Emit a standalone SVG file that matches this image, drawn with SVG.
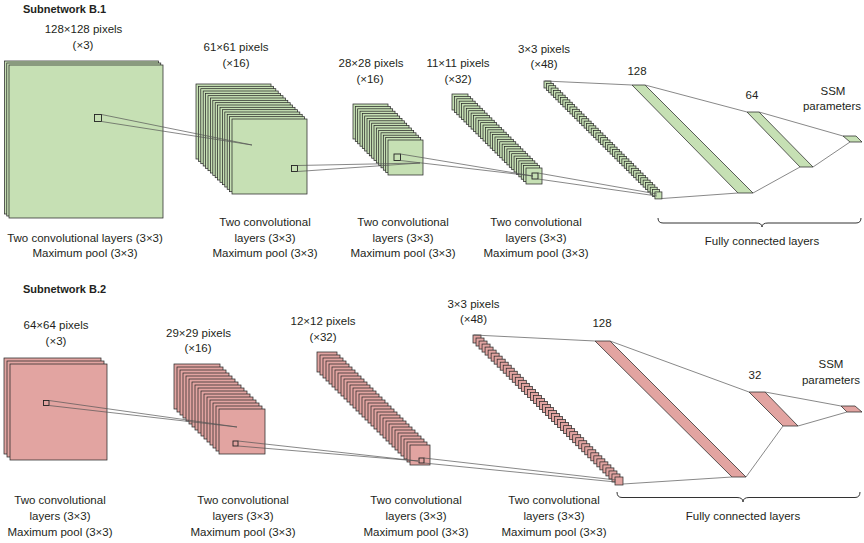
<svg xmlns="http://www.w3.org/2000/svg" width="864" height="543" viewBox="0 0 864 543">
<style>
.g{fill:#c6e0b4;stroke:#2a2a2a;stroke-width:0.75}
.p{fill:#e2a4a1;stroke:#2a2a2a;stroke-width:0.75}
.sq{fill:none;stroke:#222;stroke-width:0.9}
.c{stroke:#555;stroke-width:0.7;fill:none}
.br{fill:none;stroke:#333;stroke-width:1}
text{font-family:"Liberation Sans",Arial,sans-serif;font-size:11.5px;fill:#231f20;stroke:none;text-anchor:middle}
.t{font-weight:bold;font-size:11px;text-anchor:start}
</style>
<defs>
<rect id="a1" x="4.5" y="61" width="154" height="153"/>
<rect id="a2" x="196" y="84" width="75" height="75"/>
<rect id="a3" x="353" y="104" width="35" height="35"/>
<rect id="a4" x="452" y="94" width="16" height="16"/>
<rect id="a5" x="544" y="81" width="7" height="7"/>
<rect id="b1" x="4" y="358" width="97" height="96"/>
<rect id="b2" x="174" y="364" width="46" height="45"/>
<rect id="b3" x="317" y="352" width="20" height="20"/>
<rect id="b4" x="473" y="335" width="8" height="8"/>
</defs>

<!-- ===== Subnetwork B.1 ===== -->
<text class="t" x="23" y="13">Subnetwork B.1</text>

<g id="b1-input" class="g">
<use href="#a1"/><use href="#a1" x="2.25" y="2"/><use href="#a1" x="4.5" y="4"/>
<rect class="sq" x="94.5" y="114.5" width="7" height="7"/>
<text x="83.5" y="33">128×128 pixels</text>
<text x="83" y="49">(×3)</text>
</g>

<g id="b1-conv1" class="g">
<use href="#a2"/><use href="#a2" x="2.4" y="2.33"/><use href="#a2" x="4.8" y="4.67"/><use href="#a2" x="7.2" y="7"/>
<use href="#a2" x="9.6" y="9.33"/><use href="#a2" x="12" y="11.67"/><use href="#a2" x="14.4" y="14"/><use href="#a2" x="16.8" y="16.33"/>
<use href="#a2" x="19.2" y="18.67"/><use href="#a2" x="21.6" y="21"/><use href="#a2" x="24" y="23.33"/><use href="#a2" x="26.4" y="25.67"/>
<use href="#a2" x="28.8" y="28"/><use href="#a2" x="31.2" y="30.33"/><use href="#a2" x="33.6" y="32.67"/><use href="#a2" x="36" y="35"/>
<rect class="sq" x="291.5" y="165.5" width="6" height="6"/>
<text x="236" y="51">61×61 pixels</text>
<text x="236" y="67">(×16)</text>
</g>

<g id="b1-conv2" class="g">
<use href="#a3"/><use href="#a3" x="2.33" y="2.4"/><use href="#a3" x="4.67" y="4.8"/><use href="#a3" x="7" y="7.2"/>
<use href="#a3" x="9.33" y="9.6"/><use href="#a3" x="11.67" y="12"/><use href="#a3" x="14" y="14.4"/><use href="#a3" x="16.33" y="16.8"/>
<use href="#a3" x="18.67" y="19.2"/><use href="#a3" x="21" y="21.6"/><use href="#a3" x="23.33" y="24"/><use href="#a3" x="25.67" y="26.4"/>
<use href="#a3" x="28" y="28.8"/><use href="#a3" x="30.33" y="31.2"/><use href="#a3" x="32.67" y="33.6"/><use href="#a3" x="35" y="36"/>
<rect class="sq" x="394" y="154" width="6.5" height="6.5"/>
<text x="371" y="67">28×28 pixels</text>
<text x="370" y="83">(×16)</text>
</g>

<g id="b1-conv3" class="g">
<use href="#a4"/><use href="#a4" x="2.39" y="2.39"/><use href="#a4" x="4.77" y="4.77"/><use href="#a4" x="7.16" y="7.16"/>
<use href="#a4" x="9.55" y="9.55"/><use href="#a4" x="11.94" y="11.94"/><use href="#a4" x="14.32" y="14.32"/><use href="#a4" x="16.71" y="16.71"/>
<use href="#a4" x="19.1" y="19.1"/><use href="#a4" x="21.48" y="21.48"/><use href="#a4" x="23.87" y="23.87"/><use href="#a4" x="26.26" y="26.26"/>
<use href="#a4" x="28.65" y="28.65"/><use href="#a4" x="31.03" y="31.03"/><use href="#a4" x="33.42" y="33.42"/><use href="#a4" x="35.81" y="35.81"/>
<use href="#a4" x="38.19" y="38.19"/><use href="#a4" x="40.58" y="40.58"/><use href="#a4" x="42.97" y="42.97"/><use href="#a4" x="45.35" y="45.35"/>
<use href="#a4" x="47.74" y="47.74"/><use href="#a4" x="50.13" y="50.13"/><use href="#a4" x="52.52" y="52.52"/><use href="#a4" x="54.9" y="54.9"/>
<use href="#a4" x="57.29" y="57.29"/><use href="#a4" x="59.68" y="59.68"/><use href="#a4" x="62.06" y="62.06"/><use href="#a4" x="64.45" y="64.45"/>
<use href="#a4" x="66.84" y="66.84"/><use href="#a4" x="69.23" y="69.23"/><use href="#a4" x="71.61" y="71.61"/><use href="#a4" x="74" y="74"/>
<rect class="sq" x="532" y="173" width="6" height="6"/>
<text x="458" y="67">11×11 pixels</text>
<text x="458" y="83">(×32)</text>
</g>

<g id="b1-conv4" class="g">
<use href="#a5"/><use href="#a5" x="2.36" y="2.36"/><use href="#a5" x="4.72" y="4.72"/><use href="#a5" x="7.08" y="7.08"/>
<use href="#a5" x="9.44" y="9.44"/><use href="#a5" x="11.8" y="11.8"/><use href="#a5" x="14.16" y="14.16"/><use href="#a5" x="16.52" y="16.52"/>
<use href="#a5" x="18.88" y="18.88"/><use href="#a5" x="21.24" y="21.24"/><use href="#a5" x="23.6" y="23.6"/><use href="#a5" x="25.96" y="25.96"/>
<use href="#a5" x="28.32" y="28.32"/><use href="#a5" x="30.68" y="30.68"/><use href="#a5" x="33.04" y="33.04"/><use href="#a5" x="35.4" y="35.4"/>
<use href="#a5" x="37.76" y="37.76"/><use href="#a5" x="40.12" y="40.12"/><use href="#a5" x="42.48" y="42.48"/><use href="#a5" x="44.84" y="44.84"/>
<use href="#a5" x="47.2" y="47.2"/><use href="#a5" x="49.56" y="49.56"/><use href="#a5" x="51.92" y="51.92"/><use href="#a5" x="54.28" y="54.28"/>
<use href="#a5" x="56.64" y="56.64"/><use href="#a5" x="59" y="59"/><use href="#a5" x="61.36" y="61.36"/><use href="#a5" x="63.72" y="63.72"/>
<use href="#a5" x="66.08" y="66.08"/><use href="#a5" x="68.44" y="68.44"/><use href="#a5" x="70.8" y="70.8"/><use href="#a5" x="73.16" y="73.16"/>
<use href="#a5" x="75.52" y="75.52"/><use href="#a5" x="77.88" y="77.88"/><use href="#a5" x="80.24" y="80.24"/><use href="#a5" x="82.6" y="82.6"/>
<use href="#a5" x="84.96" y="84.96"/><use href="#a5" x="87.32" y="87.32"/><use href="#a5" x="89.68" y="89.68"/><use href="#a5" x="92.04" y="92.04"/>
<use href="#a5" x="94.4" y="94.4"/><use href="#a5" x="96.76" y="96.76"/><use href="#a5" x="99.12" y="99.12"/><use href="#a5" x="101.48" y="101.48"/>
<use href="#a5" x="103.84" y="103.84"/><use href="#a5" x="106.2" y="106.2"/><use href="#a5" x="108.56" y="108.56"/><use href="#a5" x="110.92" y="110.92"/>
<text x="544" y="53">3×3 pixels</text>
<text x="544" y="68">(×48)</text>
</g>

<g id="b1-fc128" class="g">
<polygon points="632,85 645,85 753,193 738,193"/>
<text x="637" y="75">128</text>
</g>
<g id="b1-fc64" class="g">
<polygon points="747,112 759,112 813,167 800,167"/>
<text x="752" y="99">64</text>
</g>
<g id="b1-ssm" class="g">
<polygon points="843,136 856,136 862,142 850,142"/>
<text x="833" y="95">SSM</text>
<text x="832" y="110">parameters</text>
</g>

<g id="b1-labels">
<text x="85" y="241.5">Two convolutional layers (3×3)</text>
<text x="85" y="257">Maximum pool (3×3)</text>
<text x="265" y="226">Two convolutional</text>
<text x="265" y="241.5">layers (3×3)</text>
<text x="265" y="257">Maximum pool (3×3)</text>
<text x="403" y="226">Two convolutional</text>
<text x="403" y="241.5">layers (3×3)</text>
<text x="403" y="257">Maximum pool (3×3)</text>
<text x="536" y="226">Two convolutional</text>
<text x="536" y="241.5">layers (3×3)</text>
<text x="536" y="257">Maximum pool (3×3)</text>
</g>

<g id="b1-fc-brace">
<path class="br" d="M658,218 Q658,223 663,223 L756,223 Q762,223 762,227 Q762,223 768,223 L856,223 Q861,223 861,218"/>
<text x="762" y="245">Fully connected layers</text>
</g>

<!-- ===== Subnetwork B.2 ===== -->
<text class="t" x="23" y="293">Subnetwork B.2</text>

<g id="b2-input" class="p">
<use href="#b1"/><use href="#b1" x="3" y="3"/><use href="#b1" x="6" y="6"/>
<rect class="sq" x="43.5" y="400.5" width="5.5" height="5"/>
<text x="56" y="329">64×64 pixels</text>
<text x="56" y="345">(×3)</text>
</g>

<g id="b2-conv1" class="p">
<use href="#b2"/><use href="#b2" x="3" y="3"/><use href="#b2" x="6" y="6"/><use href="#b2" x="9" y="9"/>
<use href="#b2" x="12" y="12"/><use href="#b2" x="15" y="15"/><use href="#b2" x="18" y="18"/><use href="#b2" x="21" y="21"/>
<use href="#b2" x="24" y="24"/><use href="#b2" x="27" y="27"/><use href="#b2" x="30" y="30"/><use href="#b2" x="33" y="33"/>
<use href="#b2" x="36" y="36"/><use href="#b2" x="39" y="39"/><use href="#b2" x="42" y="42"/><use href="#b2" x="45" y="45"/>
<rect class="sq" x="233" y="441" width="5" height="5"/>
<text x="198.5" y="337">29×29 pixels</text>
<text x="198" y="352">(×16)</text>
</g>

<g id="b2-conv2" class="p">
<use href="#b3"/><use href="#b3" x="3" y="3"/><use href="#b3" x="6" y="6"/><use href="#b3" x="9" y="9"/>
<use href="#b3" x="12" y="12"/><use href="#b3" x="15" y="15"/><use href="#b3" x="18" y="18"/><use href="#b3" x="21" y="21"/>
<use href="#b3" x="24" y="24"/><use href="#b3" x="27" y="27"/><use href="#b3" x="30" y="30"/><use href="#b3" x="33" y="33"/>
<use href="#b3" x="36" y="36"/><use href="#b3" x="39" y="39"/><use href="#b3" x="42" y="42"/><use href="#b3" x="45" y="45"/>
<use href="#b3" x="48" y="48"/><use href="#b3" x="51" y="51"/><use href="#b3" x="54" y="54"/><use href="#b3" x="57" y="57"/>
<use href="#b3" x="60" y="60"/><use href="#b3" x="63" y="63"/><use href="#b3" x="66" y="66"/><use href="#b3" x="69" y="69"/>
<use href="#b3" x="72" y="72"/><use href="#b3" x="75" y="75"/><use href="#b3" x="78" y="78"/><use href="#b3" x="81" y="81"/>
<use href="#b3" x="84" y="84"/><use href="#b3" x="87" y="87"/><use href="#b3" x="90" y="90"/><use href="#b3" x="93" y="93"/>
<rect class="sq" x="419" y="458" width="5" height="5"/>
<text x="323" y="325">12×12 pixels</text>
<text x="323" y="341">(×32)</text>
</g>

<g id="b2-conv3" class="p">
<use href="#b4"/><use href="#b4" x="3.02" y="3.02"/><use href="#b4" x="6.04" y="6.04"/><use href="#b4" x="9.06" y="9.06"/>
<use href="#b4" x="12.08" y="12.08"/><use href="#b4" x="15.11" y="15.11"/><use href="#b4" x="18.13" y="18.13"/><use href="#b4" x="21.15" y="21.15"/>
<use href="#b4" x="24.17" y="24.17"/><use href="#b4" x="27.19" y="27.19"/><use href="#b4" x="30.21" y="30.21"/><use href="#b4" x="33.23" y="33.23"/>
<use href="#b4" x="36.25" y="36.25"/><use href="#b4" x="39.27" y="39.27"/><use href="#b4" x="42.29" y="42.29"/><use href="#b4" x="45.32" y="45.32"/>
<use href="#b4" x="48.34" y="48.34"/><use href="#b4" x="51.36" y="51.36"/><use href="#b4" x="54.38" y="54.38"/><use href="#b4" x="57.4" y="57.4"/>
<use href="#b4" x="60.42" y="60.42"/><use href="#b4" x="63.44" y="63.44"/><use href="#b4" x="66.46" y="66.46"/><use href="#b4" x="69.48" y="69.48"/>
<use href="#b4" x="72.5" y="72.5"/><use href="#b4" x="75.53" y="75.53"/><use href="#b4" x="78.55" y="78.55"/><use href="#b4" x="81.57" y="81.57"/>
<use href="#b4" x="84.59" y="84.59"/><use href="#b4" x="87.61" y="87.61"/><use href="#b4" x="90.63" y="90.63"/><use href="#b4" x="93.65" y="93.65"/>
<use href="#b4" x="96.67" y="96.67"/><use href="#b4" x="99.69" y="99.69"/><use href="#b4" x="102.71" y="102.71"/><use href="#b4" x="105.74" y="105.74"/>
<use href="#b4" x="108.76" y="108.76"/><use href="#b4" x="111.78" y="111.78"/><use href="#b4" x="114.8" y="114.8"/><use href="#b4" x="117.82" y="117.82"/>
<use href="#b4" x="120.84" y="120.84"/><use href="#b4" x="123.86" y="123.86"/><use href="#b4" x="126.88" y="126.88"/><use href="#b4" x="129.9" y="129.9"/>
<use href="#b4" x="132.92" y="132.92"/><use href="#b4" x="135.95" y="135.95"/><use href="#b4" x="138.97" y="138.97"/><use href="#b4" x="141.99" y="141.99"/>
<text x="473.5" y="308">3×3 pixels</text>
<text x="473.5" y="323">(×48)</text>
</g>

<g id="b2-fc128" class="p">
<polygon points="595,341 610,341 746,477 732,477"/>
<text x="602" y="327">128</text>
</g>
<g id="b2-fc32" class="p">
<polygon points="749,392 765,392 798,426 783,426"/>
<text x="755" y="379">32</text>
</g>
<g id="b2-ssm" class="p">
<polygon points="841,406 855,406 862,412 847,412"/>
<text x="831" y="368">SSM</text>
<text x="831" y="384">parameters</text>
</g>

<g id="b2-labels">
<text x="60" y="504">Two convolutional</text>
<text x="60" y="520">layers (3×3)</text>
<text x="60" y="536">Maximum pool (3×3)</text>
<text x="243" y="504">Two convolutional</text>
<text x="243" y="520">layers (3×3)</text>
<text x="243" y="536">Maximum pool (3×3)</text>
<text x="416" y="504">Two convolutional</text>
<text x="416" y="520">layers (3×3)</text>
<text x="416" y="536">Maximum pool (3×3)</text>
<text x="554" y="504">Two convolutional</text>
<text x="554" y="520">layers (3×3)</text>
<text x="554" y="536">Maximum pool (3×3)</text>
</g>

<g id="b2-fc-brace">
<path class="br" d="M617,492 Q617,497.5 622,497.5 L737,497.5 Q743,497.5 743,502 Q743,497.5 749,497.5 L855,497.5 Q860,497.5 860,492"/>
<text x="743" y="520">Fully connected layers</text>
</g>

<!-- ===== connectors ===== -->
<g id="connectors" class="c">
<line x1="101.5" y1="114.5" x2="252" y2="145"/>
<line x1="101.5" y1="121.5" x2="252" y2="145"/>
<line x1="297.5" y1="165.5" x2="420" y2="163"/>
<line x1="297.5" y1="171.5" x2="420" y2="163"/>
<line x1="400.5" y1="154" x2="533" y2="176"/>
<line x1="400.5" y1="160.5" x2="533" y2="176"/>
<line x1="538" y1="173" x2="657" y2="194"/>
<line x1="538" y1="179" x2="657" y2="196"/>
<line x1="545" y1="81" x2="632" y2="85"/>
<line x1="662" y1="198.5" x2="738" y2="193"/>
<line x1="645" y1="85" x2="747" y2="112"/>
<line x1="753" y1="193" x2="800" y2="167"/>
<line x1="759" y1="112" x2="843" y2="136"/>
<line x1="813" y1="167" x2="850" y2="142"/>

<line x1="49" y1="400.5" x2="237" y2="427"/>
<line x1="49" y1="405.5" x2="237" y2="427"/>
<line x1="238" y1="441" x2="418" y2="461"/>
<line x1="238" y1="446" x2="418" y2="461"/>
<line x1="424" y1="458" x2="616" y2="480"/>
<line x1="424" y1="463" x2="616" y2="482"/>
<line x1="474" y1="335" x2="595" y2="341"/>
<line x1="623" y1="484" x2="732" y2="477"/>
<line x1="610" y1="341" x2="749" y2="392"/>
<line x1="746" y1="477" x2="783" y2="426"/>
<line x1="765" y1="392" x2="841" y2="406"/>
<line x1="798" y1="426" x2="847" y2="412"/>
</g>
</svg>
